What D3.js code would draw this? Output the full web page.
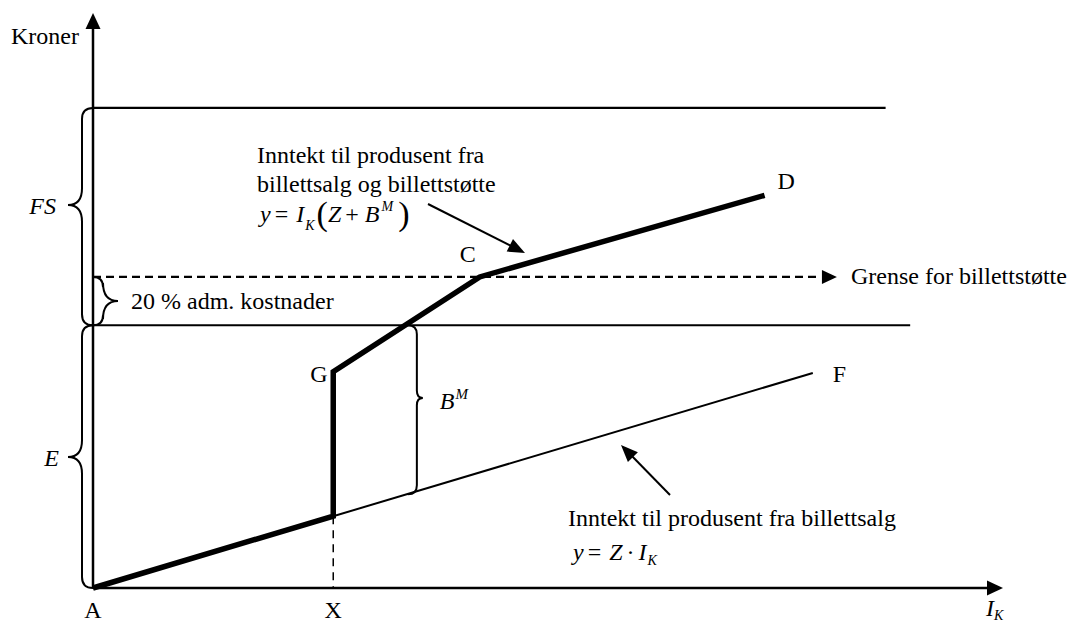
<!DOCTYPE html>
<html>
<head>
<meta charset="utf-8">
<script src="https://cdn.jsdelivr.net/npm/d3@7"></script>
<style>
  body { margin: 0; background: #fff; }
  svg text { font-family: "Liberation Serif", "Times New Roman", serif; font-size: 24px; fill: #000; }
  .it { font-style: italic; }
</style>
</head>
<body>
<div id="chart"></div>
<script>
// ---- diagram values (conceptual units, 0-100 on each axis) ----
const levelNames  = ["E", "Grense", "FS"];
const levelValues = [45.7, 54.1, 83.5];      // E, grense for billettstøtte, FS top
const levelEnds   = [89.8, 80.1, 87.1];      // how far each horizontal reaches

// income with ticket support (thick) : A -> X -> G -> C -> D
const supportX = [0, 26.4, 26.4, 42.5, 73.8];
const supportY = [0, 12.5, 37.6, 54.1, 68.3];

// income from ticket sales only (thin) : A -> F
const salesX = [0, 79.1];
const salesY = [0, 37.4];

// B^M brace : at this x, from E level down to sales line
const bmX = 34.6;
const bmBottom = 16.3;

const xLabels = ["A", "X"];
const xLabelPos = [0, 26.4];

const width = 1069, height = 623;

const svg = d3.select("#chart").append("svg")
    .attr("width", width)
    .attr("height", height);

const x = d3.scaleLinear().domain([0, 100]).range([93, 1003]);
const y = d3.scaleLinear().domain([0, 100]).range([588, 13]);

// arrow head helper
function arrowHead(x1, y1, x2, y2, len, half) {
    let a = Math.atan2(y2 - y1, x2 - x1);
    let bx = x2 - len * Math.cos(a), by = y2 - len * Math.sin(a);
    let px = -Math.sin(a) * half, py = Math.cos(a) * half;
    svg.append("path")
        .attr("d", `M${x2},${y2}L${bx + px},${by + py}L${bx - px},${by - py}Z`)
        .attr("fill", "#000");
}

// curly brace helper: ends at xe, spine at xsp, tip at xt
function brace(xe, xsp, xt, y0, y1, yt) {
    let r = Math.abs(xsp - xe), r2 = Math.abs(xt - xsp) * 1.2;
    let d = `M${xe},${y0}Q${xsp},${y0} ${xsp},${y0 + r}` +
        `L${xsp},${yt - r2}Q${xsp},${yt} ${xt},${yt}` +
        `Q${xsp},${yt} ${xsp},${yt + r2}` +
        `L${xsp},${y1 - r}Q${xsp},${y1} ${xe},${y1}`;
    svg.append("path").attr("d", d)
        .attr("fill", "none").attr("stroke", "#000").attr("stroke-width", 2);
}

// axes
svg.append("line")
    .attr("x1", x(0)).attr("y1", y(0)).attr("x2", x(0)).attr("y2", y(100) + 14)
    .attr("stroke", "#000").attr("stroke-width", 2.5);
arrowHead(x(0), y(0), x(0), y(100), 16, 7.5);

svg.append("line")
    .attr("x1", x(0)).attr("y1", y(0)).attr("x2", x(100) - 14).attr("y2", y(0))
    .attr("stroke", "#000").attr("stroke-width", 2.5);
arrowHead(x(0), y(0), x(100), y(0), 16, 7.5);

// horizontal levels
levelNames.forEach((n, i) => {
    let l = svg.append("line")
        .attr("x1", x(0)).attr("y1", y(levelValues[i]))
        .attr("x2", x(levelEnds[i])).attr("y2", y(levelValues[i]))
        .attr("stroke", "#000").attr("stroke-width", 2.2);
    if (n == "Grense") {
        l.attr("stroke-dasharray", "8,5").attr("x2", x(levelEnds[i]) - 2);
        arrowHead(x(0), y(levelValues[i]), x(levelEnds[i]) + 15, y(levelValues[i]), 15, 7);
    }
});

// sales line (thin)
let line = d3.line().x(d => x(d[0])).y(d => y(d[1]));
svg.append("path")
    .attr("d", line(d3.zip(salesX, salesY)))
    .attr("fill", "none").attr("stroke", "#000").attr("stroke-width", 2);

// dashed drop at X
svg.append("line")
    .attr("x1", x(supportX[1])).attr("y1", y(supportY[1]))
    .attr("x2", x(supportX[1])).attr("y2", y(0))
    .attr("stroke", "#000").attr("stroke-width", 1.5)
    .attr("stroke-dasharray", "8,6");

// support line (thick)
svg.append("path")
    .attr("d", line(d3.zip(supportX, supportY)))
    .attr("fill", "none").attr("stroke", "#000").attr("stroke-width", 5.5)
    .attr("stroke-linejoin", "miter");

// braces
brace(x(0), x(0) - 11, x(0) - 25, y(levelValues[2]), y(levelValues[0]), 205);
brace(x(0), x(0) - 11, x(0) - 25, y(levelValues[0]), y(0), 457);
brace(x(0), x(0) + 10, x(0) + 25, y(levelValues[1]), y(levelValues[0]), 301);
brace(x(bmX), x(bmX) + 9, x(bmX) + 15, y(levelValues[0]), y(bmBottom), 398);

// annotation arrows
svg.append("line").attr("x1", 428).attr("y1", 204).attr("x2", 515).attr("y2", 248)
    .attr("stroke", "#000").attr("stroke-width", 2);
arrowHead(428, 204, 525, 253, 17, 7);
svg.append("line").attr("x1", 670).attr("y1", 495).attr("x2", 628).attr("y2", 452)
    .attr("stroke", "#000").attr("stroke-width", 2);
arrowHead(670, 495, 621, 445, 17, 7);

// labels
svg.append("text").attr("x", 11).attr("y", 44).text("Kroner");
svg.append("text").attr("class", "it").attr("x", 56).attr("y", 214)
    .attr("text-anchor", "end").text("FS");
svg.append("text").attr("class", "it").attr("x", 59).attr("y", 466)
    .attr("text-anchor", "end").text("E");
svg.append("text").attr("x", 131).attr("y", 309).text("20 % adm. kostnader");
svg.append("text").attr("x", 851).attr("y", 284).text("Grense for billettstøtte");

svg.append("text").attr("x", x(supportX[2]) - 23).attr("y", y(supportY[2]) + 10).text("G");
svg.append("text").attr("x", x(supportX[3]) - 20).attr("y", y(supportY[3]) - 15).text("C");
svg.append("text").attr("x", x(supportX[4]) + 13).attr("y", y(supportY[4]) - 6).text("D");
svg.append("text").attr("x", x(salesX[1]) + 20).attr("y", y(salesY[1]) + 9).text("F");

// B^M
let bm = svg.append("text").attr("class", "it").attr("x", x(bmX) + 32).attr("y", 409);
bm.append("tspan").text("B");
bm.append("tspan").attr("font-size", "15px").attr("dy", -10).attr("dx", 1).text("M");

// x labels
xLabels.forEach((t, i) => {
    svg.append("text").attr("x", x(xLabelPos[i])).attr("y", 618)
        .attr("text-anchor", "middle").text(t);
});
let ik = svg.append("text").attr("class", "it").attr("x", 986).attr("y", 616);
ik.append("tspan").text("I");
ik.append("tspan").attr("font-size", "14px").attr("dy", 4).text("K");

// upper text block
svg.append("text").attr("x", 257).attr("y", 163).text("Inntekt til produsent fra");
svg.append("text").attr("x", 257).attr("y", 192).text("billettsalg og billettstøtte");
let f1 = svg.append("text").attr("x", 260).attr("y", 222);
f1.append("tspan").attr("class", "it").text("y");
f1.append("tspan").attr("dx", 4).text("=");
f1.append("tspan").attr("class", "it").attr("dx", 8).text("I");
f1.append("tspan").attr("class", "it").attr("font-size", "14px").attr("dy", 8).attr("dx", 1).text("K");
f1.append("tspan").attr("font-size", "34px").attr("dy", -5).attr("dx", 2).text("(");
f1.append("tspan").attr("class", "it").attr("dy", -3).text("Z");
f1.append("tspan").attr("dx", 4).text("+");
f1.append("tspan").attr("class", "it").attr("dx", 6).text("B");
f1.append("tspan").attr("class", "it").attr("font-size", "14px").attr("dy", -11).attr("dx", 2).text("M");
f1.append("tspan").attr("font-size", "34px").attr("dy", 14).attr("dx", 5).text(")");

// lower text block
svg.append("text").attr("x", 568).attr("y", 526).text("Inntekt til produsent fra billettsalg");
let f2 = svg.append("text").attr("x", 573).attr("y", 560);
f2.append("tspan").attr("class", "it").text("y");
f2.append("tspan").attr("dx", 4).text("=");
f2.append("tspan").attr("class", "it").attr("dx", 8).text("Z");
f2.append("tspan").attr("dx", 4).text("·");
f2.append("tspan").attr("class", "it").attr("dx", 4).text("I");
f2.append("tspan").attr("class", "it").attr("font-size", "14px").attr("dy", 5).attr("dx", 1).text("K");
</script>
</body>
</html>
